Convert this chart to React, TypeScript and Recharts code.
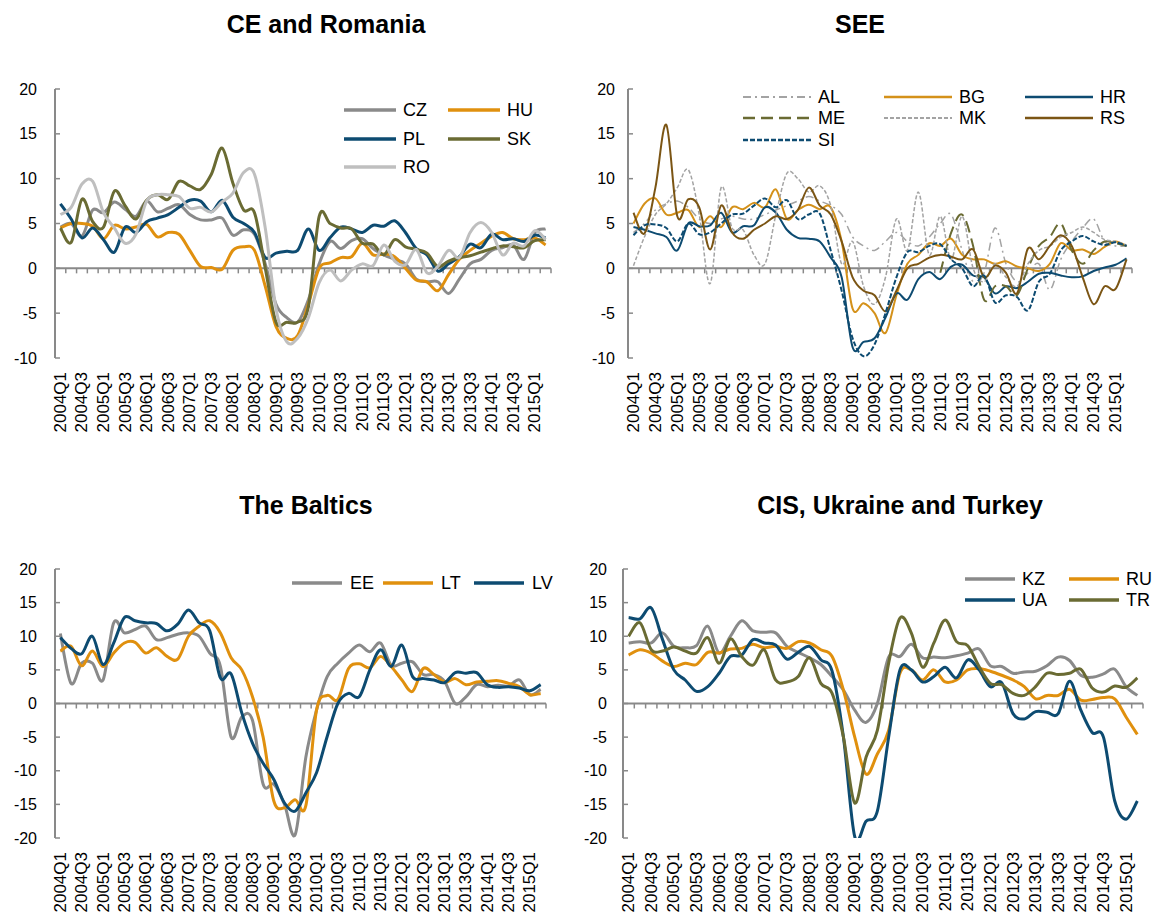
import React from 'react';
import { LineChart, Line, XAxis, YAxis, ReferenceLine, Legend } from 'recharts';

const QUARTERS = [
  '2004Q1','2004Q2','2004Q3','2004Q4','2005Q1','2005Q2','2005Q3','2005Q4',
  '2006Q1','2006Q2','2006Q3','2006Q4','2007Q1','2007Q2','2007Q3','2007Q4',
  '2008Q1','2008Q2','2008Q3','2008Q4','2009Q1','2009Q2','2009Q3','2009Q4',
  '2010Q1','2010Q2','2010Q3','2010Q4','2011Q1','2011Q2','2011Q3','2011Q4',
  '2012Q1','2012Q2','2012Q3','2012Q4','2013Q1','2013Q2','2013Q3','2013Q4',
  '2014Q1','2014Q2','2014Q3','2014Q4','2015Q1','2015Q2',
];

// CE and Romania
const CZ = [4.6,5.0,3.6,6.5,6.2,7.4,6.6,5.8,7.5,6.3,6.7,7.1,6.0,5.4,5.4,5.6,3.7,4.3,3.8,0.5,-4.0,-5.5,-6.0,-3.5,0.5,3.0,2.2,3.1,3.3,2.2,1.5,1.0,0.5,-1.2,-1.5,-1.5,-2.8,-1.2,0.5,1.0,2.0,2.3,2.6,1.0,4.0,4.4];
const HU = [4.5,5.0,5.0,4.7,3.3,4.8,4.4,4.6,4.9,3.5,4.0,3.8,2.0,0.2,0.1,-0.1,2.0,2.4,2.0,-2.0,-6.5,-7.8,-7.5,-4.0,0.0,0.6,1.2,1.3,2.8,1.5,1.6,1.3,0.0,-1.3,-1.5,-2.5,-0.7,1.0,2.0,2.8,3.6,4.0,3.3,3.2,3.4,2.6];
const PL = [7.2,5.5,3.4,4.5,3.2,1.8,4.6,4.0,5.2,5.6,6.0,6.8,7.6,7.5,6.3,7.6,5.7,5.0,4.0,1.2,1.7,1.9,2.0,4.4,2.0,3.4,4.6,4.4,4.0,4.8,4.7,5.3,4.0,2.2,1.5,-0.3,0.5,1.3,2.7,2.3,3.8,3.2,3.3,3.0,3.7,3.4];
const SK = [4.5,2.9,7.7,5.2,4.6,8.6,7.0,5.5,7.6,8.2,7.7,9.7,9.2,8.8,10.5,13.4,9.5,6.5,6.2,0.0,-6.0,-6.0,-6.0,-4.3,5.8,5.0,4.5,4.4,2.8,2.7,1.5,3.2,2.4,2.1,1.7,0.2,0.8,1.2,1.4,1.8,2.2,2.5,2.4,2.3,3.1,3.2];
const RO = [6.0,6.8,9.4,9.7,6.2,4.5,2.8,3.8,7.5,8.2,8.2,8.0,6.7,6.8,6.3,7.4,8.4,10.7,10.5,4.5,-4.5,-8.2,-7.8,-5.5,-1.6,-0.2,-1.4,-0.2,0.5,0.3,2.6,0.8,0.4,2.1,-0.5,0.2,2.0,1.2,4.0,5.1,4.0,1.5,2.8,2.5,4.2,3.2];

// SEE
const AL = [4.0,5.0,6.5,7.2,7.5,6.8,5.5,5.0,5.5,5.8,5.5,5.5,6.0,6.5,7.0,7.5,8.0,7.5,7.0,6.0,3.5,2.5,2.0,3.0,4.0,3.0,2.5,3.5,5.0,6.0,2.0,-1.5,-0.5,4.5,0.5,-1.5,-0.5,0.5,-2.4,1.0,3.0,4.5,5.5,3.0,2.5,2.5];
const BG = [5.0,7.2,7.8,6.0,6.2,6.5,4.6,5.8,4.6,6.8,6.6,7.3,6.8,8.8,5.5,6.5,7.1,6.6,6.8,3.0,-4.5,-3.9,-5.0,-7.2,-3.0,0.5,1.5,2.8,2.5,3.3,1.5,1.0,1.0,0.5,0.8,0.2,0.0,-0.3,0.5,2.8,2.0,2.1,1.6,2.4,3.0,2.5];
const HR = [4.6,4.3,3.9,3.5,2.0,5.0,4.7,4.8,6.2,4.0,4.7,4.8,6.8,6.2,4.3,3.4,3.3,3.0,1.2,-1.0,-8.8,-8.2,-7.8,-5.5,-2.8,-3.5,-1.2,-0.4,-1.2,0.2,0.4,-0.8,-1.0,-2.8,-2.0,-2.2,-1.5,-0.6,-0.5,-0.8,-1.0,-0.9,-0.3,0.1,0.4,1.1];
const ME = [null,null,null,null,null,null,null,null,null,null,null,null,null,null,null,null,null,null,null,null,null,null,null,null,null,null,null,null,-0.5,4.0,6.0,2.5,-3.5,-2.0,-2.0,-3.0,0.0,2.5,3.5,5.0,2.0,0.5,2.0,3.0,2.8,2.5];
const MK = [0.3,3.5,6.0,7.2,9.0,11.0,6.0,-1.7,9.0,4.5,4.3,1.5,0.5,6.0,10.6,10.0,8.5,9.2,7.0,0.5,3.0,-2.0,-4.0,-1.0,5.5,2.0,8.5,1.5,5.8,1.0,5.8,0.0,-1.5,0.5,-1.0,-2.0,0.5,2.0,2.5,3.5,4.0,4.6,4.0,3.2,3.0,2.6];
const RS = [6.2,3.9,9.0,16.0,5.8,7.7,6.8,2.1,7.0,4.0,3.3,4.3,5.0,5.8,5.5,6.5,9.0,7.0,6.0,3.0,-1.0,-2.5,-3.0,-4.8,-2.5,0.0,0.5,1.2,1.5,1.3,1.0,2.1,-1.0,0.3,-0.5,-2.8,2.2,1.0,2.5,3.7,2.5,-1.0,-4.0,-2.0,-2.3,1.0];
const SI = [3.7,4.8,4.9,4.5,3.0,5.0,3.8,4.0,5.0,6.0,6.1,7.0,7.8,6.8,7.6,5.5,6.0,6.1,2.0,-2.5,-7.8,-9.8,-8.5,-5.0,-1.0,1.8,1.8,2.5,2.7,1.0,0.0,-2.0,-0.8,-3.8,-3.0,-3.2,-4.7,-1.5,-0.6,2.0,3.0,3.6,3.0,2.6,2.9,2.5];

// The Baltics
const EE = [10.4,3.0,6.0,6.0,3.5,12.0,10.5,11.0,11.5,9.5,9.8,10.3,10.5,10.0,7.5,5.5,-5.0,-2.0,-2.5,-12.0,-12.0,-15.0,-19.5,-8.0,-1.0,4.0,6.0,7.5,8.7,7.7,9.0,5.7,6.0,6.2,4.3,4.3,3.3,0.0,1.0,2.8,2.5,2.7,2.6,3.5,1.3,2.1];
const LT = [7.8,8.5,5.6,7.8,5.5,7.5,9.0,9.1,7.5,8.3,7.0,6.6,10.0,11.5,12.3,10.5,6.8,5.0,1.0,-5.0,-14.5,-15.5,-14.3,-15.2,-1.0,1.2,0.6,5.2,5.9,5.3,7.0,5.5,3.5,1.8,5.2,4.3,3.2,3.7,2.8,3.2,3.3,3.4,3.0,2.5,1.3,1.5];
const LV = [9.8,8.2,7.4,10.0,5.8,9.0,12.8,12.3,12.0,11.9,10.8,11.8,13.9,12.0,10.8,3.8,4.4,-1.4,-5.9,-8.9,-11.3,-14.8,-16.0,-13.3,-10.3,-4.9,0.0,1.5,1.0,5.0,8.0,5.5,8.7,4.0,3.7,3.5,3.1,4.6,4.5,4.6,2.8,2.4,2.5,2.3,1.9,2.8];

// CIS, Ukraine and Turkey
const KZ = [9.0,9.2,9.0,10.5,8.5,8.3,8.6,11.5,7.5,10.0,12.3,10.8,10.6,10.5,8.5,7.6,6.8,5.8,4.0,2.0,-1.0,-2.8,0.0,6.9,7.0,8.8,6.8,6.9,6.8,7.1,7.5,8.1,5.6,5.5,4.5,4.7,4.8,5.6,6.9,6.4,4.2,3.9,4.4,5.1,2.5,1.2];
const RU = [7.2,8.0,7.5,6.3,5.5,6.0,5.8,7.6,7.5,8.1,8.2,8.8,8.3,8.5,8.2,9.2,9.0,8.0,7.0,2.0,-5.0,-10.5,-7.5,-4.0,4.5,5.0,3.5,5.0,3.2,3.5,5.0,5.2,4.8,4.2,3.5,2.5,0.7,1.2,1.2,2.1,0.5,0.6,0.9,0.7,-2.0,-4.6];
const UA = [12.8,12.6,14.2,9.5,5.0,3.5,1.8,2.5,4.5,7.0,7.2,9.5,9.0,8.7,6.6,7.6,8.5,6.5,4.8,-5.0,-19.8,-17.5,-16.0,-5.0,5.0,5.0,3.2,4.0,5.4,3.8,6.5,5.0,2.5,3.1,-1.5,-2.3,-1.2,-1.3,-1.5,3.3,-1.0,-4.3,-5.0,-14.5,-17.2,-14.5];
const TR = [10.0,12.0,8.0,7.8,8.4,7.8,7.5,9.8,6.0,9.6,7.0,5.7,8.0,3.5,3.2,4.0,6.8,3.0,1.5,-5.0,-14.8,-8.0,-4.0,6.0,12.7,10.5,5.4,9.0,12.4,9.2,8.6,5.5,3.0,2.8,1.5,1.2,2.5,4.5,4.3,4.5,5.1,2.3,1.7,2.6,2.4,3.8];

const Y_TICKS_A = [-10, -5, 0, 5, 10, 15, 20];
const Y_TICKS_B = [-20, -15, -10, -5, 0, 5, 10, 15, 20];

const FONT = '"Liberation Sans", Arial, Helvetica, sans-serif';
const AXIS = '#898989';
const C_GRAY = '#8A8A8A';
const C_LGRAY = '#BFBFBF';
const C_ORANGE = '#E0900E';
const C_GOLD = '#D4911A';
const C_BLUE = '#0D4B71';
const C_OLIVE = '#6A6B33';
const C_BROWN = '#7B5514';
const C_DASHGRAY = '#A3A3A3';

const LABEL_TICKS = QUARTERS.map((_, i) => i + 0.5).filter((_, i) => i % 2 === 0);
const BOUNDARIES = QUARTERS.map((_, i) => i + 1);

// Catmull-Rom style smoothing, similar to spreadsheet "smoothed line"
function smoothCurve(context: any) {
  let pts: number[][] = [];
  return {
    areaStart() {},
    areaEnd() {},
    lineStart() { pts = []; },
    point(x: number, y: number) { pts.push([+x, +y]); },
    lineEnd() {
      const n = pts.length;
      if (!n) return;
      context.moveTo(pts[0][0], pts[0][1]);
      if (n === 1) return;
      const k = 1 / 6;
      for (let i = 0; i < n - 1; i++) {
        const p0 = pts[i - 1] || pts[i];
        const p1 = pts[i];
        const p2 = pts[i + 1];
        const p3 = pts[i + 2] || p2;
        context.bezierCurveTo(
          p1[0] + (p2[0] - p0[0]) * k, p1[1] + (p2[1] - p0[1]) * k,
          p2[0] - (p3[0] - p1[0]) * k, p2[1] - (p3[1] - p1[1]) * k,
          p2[0], p2[1]
        );
      }
    },
  };
}

type Series = { key: string; data: (number | null)[]; color: string; width: number; dash?: string };

type PanelCfg = {
  title: string; titleX: number; titleY: number;
  left: number; top: number; width: number; height: number;
  mTop: number; mLeft: number; mRight: number; yWidth: number; yGap: number;
  domain: number[]; ticks: number[]; tickLen: number;
  series: Series[];
  legend: { left: number; top: number; cols: number; colW: number; rowH: number; lineLen: number; gap: number };
};

const PANELS: PanelCfg[] = [
  {
    title: 'CE and Romania', titleX: 326, titleY: 24,
    left: 0, top: 0, width: 556, height: 438,
    mTop: 89, mLeft: 5, mRight: 5, yWidth: 50, yGap: 18,
    domain: [-10, 20], ticks: Y_TICKS_A, tickLen: 0.56,
    series: [
      { key: 'CZ', data: CZ, color: C_GRAY, width: 3 },
      { key: 'HU', data: HU, color: C_ORANGE, width: 3 },
      { key: 'PL', data: PL, color: C_BLUE, width: 3 },
      { key: 'SK', data: SK, color: C_OLIVE, width: 3 },
      { key: 'RO', data: RO, color: C_LGRAY, width: 3 },
    ],
    legend: { left: 344, top: 96, cols: 2, colW: 104, rowH: 28.5, lineLen: 52, gap: 7 },
  },
  {
    title: 'SEE', titleX: 860, titleY: 24,
    left: 580, top: 0, width: 560, height: 438,
    mTop: 89, mLeft: 3, mRight: 8, yWidth: 45, yGap: 13,
    domain: [-10, 20], ticks: Y_TICKS_A, tickLen: 0.56,
    series: [
      { key: 'AL', data: AL, color: C_DASHGRAY, width: 1.5, dash: '8 4 2 4' },
      { key: 'BG', data: BG, color: C_GOLD, width: 2 },
      { key: 'HR', data: HR, color: C_BLUE, width: 2 },
      { key: 'ME', data: ME, color: C_OLIVE, width: 2, dash: '12 6' },
      { key: 'MK', data: MK, color: C_DASHGRAY, width: 1.5, dash: '4 2' },
      { key: 'RS', data: RS, color: C_BROWN, width: 2 },
      { key: 'SI', data: SI, color: C_BLUE, width: 2, dash: '5 2' },
    ],
    legend: { left: 163, top: 86, cols: 3, colW: 141, rowH: 21.5, lineLen: 68, gap: 7 },
  },
  {
    title: 'The Baltics', titleX: 306, titleY: 505,
    left: 0, top: 480, width: 551, height: 438,
    mTop: 89, mLeft: 5, mRight: 5, yWidth: 50, yGap: 18,
    domain: [-20, 20], ticks: Y_TICKS_B, tickLen: 0.74,
    series: [
      { key: 'EE', data: EE, color: C_GRAY, width: 3 },
      { key: 'LT', data: LT, color: C_ORANGE, width: 3 },
      { key: 'LV', data: LV, color: C_BLUE, width: 3 },
    ],
    legend: { left: 292, top: 91, cols: 3, colW: 91, rowH: 24, lineLen: 50, gap: 8 },
  },
  {
    title: 'CIS, Ukraine and Turkey', titleX: 900, titleY: 505,
    left: 580, top: 480, width: 570, height: 438,
    mTop: 89, mLeft: 3, mRight: 7, yWidth: 40, yGap: 16,
    domain: [-20, 20], ticks: Y_TICKS_B, tickLen: 0.74,
    series: [
      { key: 'KZ', data: KZ, color: C_GRAY, width: 3 },
      { key: 'RU', data: RU, color: C_ORANGE, width: 3 },
      { key: 'UA', data: UA, color: C_BLUE, width: 3 },
      { key: 'TR', data: TR, color: C_OLIVE, width: 3 },
    ],
    legend: { left: 385, top: 88.5, cols: 2, colW: 104, rowH: 21, lineLen: 50, gap: 7 },
  },
];

function buildRows(series: Series[]) {
  return QUARTERS.map((q, i) => {
    const row: Record<string, any> = { x: i + 0.5, q };
    series.forEach((s) => { row[s.key] = s.data[i]; });
    return row;
  });
}

const XTick = (props: any) => {
  const { x, y, payload } = props;
  const label = QUARTERS[Math.floor(payload.value)];
  return (
    <text x={x} y={y} transform={`rotate(-90, ${x}, ${y})`} textAnchor="end"
      dominantBaseline="central" fontSize={17} fill="#000" fontFamily={FONT}>
      {label}
    </text>
  );
};

const makeYTick = (gap: number) => (props: any) => {
  const { x, y, payload } = props;
  return (
    <g>
      <text x={x} y={y} textAnchor="end" dominantBaseline="central" fontSize={16}
        fill="#000" fontFamily={FONT}>{payload.value}</text>
      <line x1={x + gap} x2={x + gap + 5} y1={y} y2={y} stroke={AXIS} strokeWidth={1.5} />
    </g>
  );
};

function LegendBox({ cfg }: { cfg: PanelCfg }) {
  const L = cfg.legend;
  return (
    <div style={{ display: 'grid', gridTemplateColumns: `repeat(${L.cols}, ${L.colW}px)`, fontFamily: FONT, fontSize: 18, color: '#000' }}>
      {cfg.series.map((s) => (
        <div key={s.key} style={{ display: 'flex', alignItems: 'center', height: L.rowH, whiteSpace: 'nowrap' }}>
          <svg width={L.lineLen} height={8} style={{ display: 'block' }}>
            <line x1={0} x2={L.lineLen} y1={4} y2={4} stroke={s.color} strokeWidth={s.width + 0.5} strokeDasharray={s.dash} />
          </svg>
          <span style={{ marginLeft: L.gap, lineHeight: 1 }}>{s.key}</span>
        </div>
      ))}
    </div>
  );
}

function Panel({ cfg }: { cfg: PanelCfg }) {
  const rows = buildRows(cfg.series);
  return (
    <div style={{ position: 'absolute', left: cfg.left, top: cfg.top, width: cfg.width, height: cfg.height }}>
      <LineChart width={cfg.width} height={cfg.height} data={rows}
        margin={{ top: cfg.mTop, right: cfg.mRight, left: cfg.mLeft, bottom: 0 }}>
        <XAxis dataKey="x" type="number" domain={[0, 46]} ticks={LABEL_TICKS} interval={0}
          axisLine={false} tickLine={false} tickSize={6} tickMargin={8} height={80}
          allowDataOverflow tick={XTick} />
        <YAxis type="number" domain={cfg.domain} ticks={cfg.ticks} interval={0} width={cfg.yWidth}
          axisLine={{ stroke: AXIS, strokeWidth: 2 }} tickLine={false} tickSize={0} tickMargin={cfg.yGap}
          allowDataOverflow tick={makeYTick(cfg.yGap)} />
        <ReferenceLine y={0} stroke={AXIS} strokeWidth={2} />
        {BOUNDARIES.map((k) => (
          <ReferenceLine key={`b${k}`} segment={[{ x: k, y: 0 }, { x: k, y: -cfg.tickLen }]} stroke={AXIS} strokeWidth={1.5} />
        ))}
        {cfg.series.map((s) => (
          <Line key={s.key} dataKey={s.key} name={s.key} type={smoothCurve as any} stroke={s.color}
            strokeWidth={s.width} strokeDasharray={s.dash} dot={false} activeDot={false}
            isAnimationActive={false} connectNulls={false} />
        ))}
        <Legend layout="horizontal" verticalAlign="middle" align="center"
          wrapperStyle={{ left: cfg.legend.left, top: cfg.legend.top, width: cfg.legend.cols * cfg.legend.colW }}
          content={() => <LegendBox cfg={cfg} />} />
      </LineChart>
    </div>
  );
}

export default function App() {
  return (
    <div style={{ position: 'absolute', left: 0, top: 0, width: 1155, height: 917, background: '#fff', fontFamily: FONT, overflow: 'hidden' }}>
      {PANELS.map((p) => (
        <React.Fragment key={p.title}>
          <div style={{ position: 'absolute', left: p.titleX, top: p.titleY - 14, transform: 'translateX(-50%)', fontSize: 25, fontWeight: 'bold', whiteSpace: 'nowrap', lineHeight: '28px', color: '#000' }}>
            {p.title}
          </div>
          <Panel cfg={p} />
        </React.Fragment>
      ))}
    </div>
  );
}
